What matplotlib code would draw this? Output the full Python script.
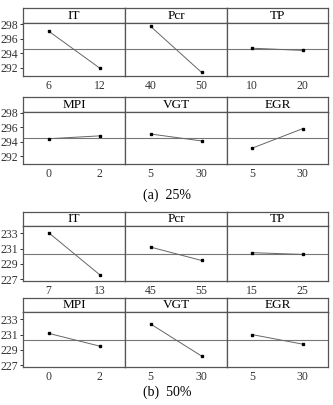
import matplotlib
matplotlib.use("Agg")
import matplotlib.pyplot as plt

plt.rcParams.update({
    "font.family": ["Liberation Serif", "DejaVu Serif"],
    "axes.edgecolor": "#555555",
    "xtick.color": "#333333",
    "ytick.color": "#333333",
})

W, H = 333, 405

factors = ["IT", "Pcr", "TP", "MPI", "VGT", "EGR"]

levels_25 = [["6", "12"], ["40", "50"], ["10", "20"], ["0", "2"], ["5", "30"], ["5", "30"]]
means_25 = [[297.05, 292.0], [297.7, 291.4], [294.7, 294.4],
            [294.4, 294.8], [295.06, 294.1], [293.1, 295.8]]
grand_25 = 294.55
yticks_25 = [292, 294, 296, 298]

levels_50 = [["7", "13"], ["45", "55"], ["15", "25"], ["0", "2"], ["5", "30"], ["5", "30"]]
means_50 = [[233.1, 227.6], [231.2, 229.45], [230.47, 230.24],
            [231.17, 229.5], [232.4, 228.2], [231.0, 229.75]]
grand_50 = 230.33
yticks_50 = [227, 229, 231, 233]


def box(x0, y0, x1, y1):
    return [x0 / W, 1 - y1 / H, (x1 - x0) / W, (y1 - y0) / H]


fig = plt.figure(figsize=(W / 100, H / 100), dpi=100)
fig.patch.set_facecolor("white")

cols = [(23, 125), (125, 227), (227, 328)]


def block(rows, levels, means, grand, yticks, ylim):
    for r, (hy0, hy1, py1) in enumerate(rows):
        for c, (x0, x1) in enumerate(cols):
            i = r * 3 + c
            # header strip
            hx = fig.add_axes(box(x0, hy0, x1, hy1))
            hx.set_xticks([]); hx.set_yticks([])
            for s in hx.spines.values():
                s.set_linewidth(0.9)
            hx.text(0.5, 0.45, factors[i], ha="center", va="center", fontsize=9.5,
                    transform=hx.transAxes)
            # plot area
            ax = fig.add_axes(box(x0, hy1, x1, py1))
            for s in ax.spines.values():
                s.set_linewidth(0.9)
            ax.axhline(grand, color="#777777", lw=0.8, zorder=1)
            ax.plot([0, 1], means[i], color="#666666", lw=0.7, zorder=2)
            ax.plot([0, 1], means[i], "s", color="black", ms=1.9, zorder=3)
            ax.set_xlim(-0.5, 1.5)
            ax.set_ylim(*ylim)
            ax.set_xticks([0, 1])
            ax.set_xticklabels(levels[i], fontsize=8.5)
            ax.tick_params(axis="x", length=0, pad=3)
            ax.set_yticks(yticks)
            if c == 0:
                ax.set_yticklabels([str(t) for t in yticks], fontsize=8.5)
                ax.tick_params(axis="y", length=2.5, width=0.7, pad=1)
            else:
                ax.tick_params(axis="y", length=0, labelleft=False)


block([(8, 23, 76), (97, 111.7, 164)], levels_25, means_25, grand_25, yticks_25,
      (290.9, 298.15))
block([(211.7, 225.7, 280.7), (297.7, 311.7, 366.7)], levels_50, means_50, grand_50,
      yticks_50, (226.8, 234.0))

fig.text(167 / W, 1 - 195 / H, "(a)  25%", ha="center", va="center", fontsize=10)
fig.text(167 / W, 1 - 392 / H, "(b)  50%", ha="center", va="center", fontsize=10)

fig.savefig("out.png", dpi=100, facecolor="white")
